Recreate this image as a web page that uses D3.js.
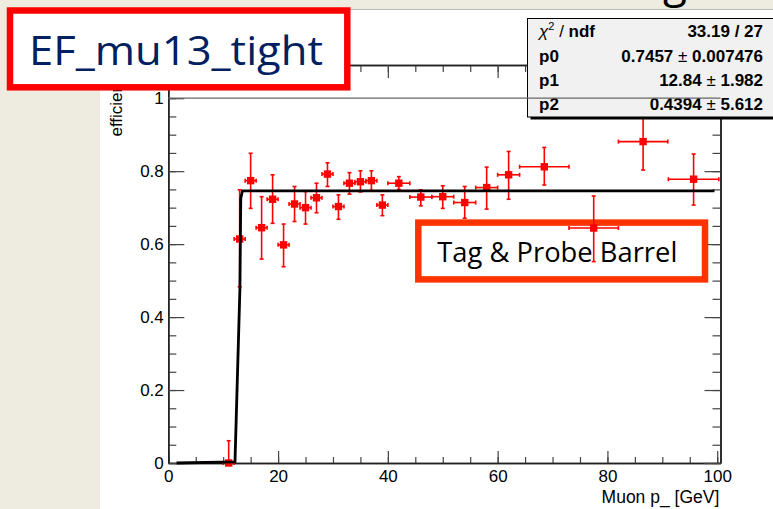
<!DOCTYPE html>
<html>
<head>
<meta charset="utf-8">
<script src="https://d3js.org/d3.v7.min.js"></script>
<style>
  body { margin: 0; background: #eeece1; }
  svg { display: block; }
  .axis text { font-family: "Liberation Sans", Arial, sans-serif; font-size: 17px; fill: #000; }
  .axis line { stroke: #444; stroke-width: 1.2px; }
  .axis path { stroke: #222; stroke-width: 1.5px; }
  .stats text { font-family: "Liberation Sans", Arial, sans-serif; font-size: 17px; font-weight: bold; fill: #000; }
</style>
</head>
<body>
<svg id="chart" width="773" height="509"></svg>
<script>
// pT bin centres, half widths, efficiencies, asymmetric errors
const ptCenter = [11, 13, 15, 17, 19, 21, 23, 25, 27, 29, 31, 33, 35, 37, 39, 42, 46, 50, 54, 58, 62, 68.5, 77.5, 86.5, 95.7];
const ptHalfWidth = [1, 1, 1, 1, 1, 1, 1, 1, 1, 1, 1, 1, 1, 1, 1, 2, 2, 2, 2, 2, 2, 4.5, 4.5, 4.5, 4.6];
const effValue = [0, 0.614, 0.774, 0.645, 0.723, 0.598, 0.710, 0.700, 0.727, 0.792, 0.703, 0.767, 0.771, 0.774, 0.707, 0.767, 0.729, 0.730, 0.714, 0.755, 0.790, 0.812, 0.644, 0.881, 0.778];
const effErrHigh = [0.061, 0.135, 0.075, 0.085, 0.067, 0.057, 0.048, 0.044, 0.040, 0.031, 0.032, 0.029, 0.030, 0.027, 0.028, 0.018, 0.020, 0.030, 0.044, 0.056, 0.064, 0.053, 0.088, 0.080, 0.069];
const effErrLow = [0, 0.131, 0.076, 0.086, 0.066, 0.060, 0.048, 0.045, 0.041, 0.034, 0.035, 0.030, 0.028, 0.027, 0.029, 0.017, 0.024, 0.032, 0.043, 0.059, 0.067, 0.050, 0.092, 0.078, 0.071];

// fitted turn-on curve as drawn
const fitX = [1.5, 12.15, 13.05, 13.2, 13.5, 99.5];
const fitY = [0, 0.003, 0.48, 0.725, 0.7457, 0.7457];

const xMajor = [0, 20, 40, 60, 80, 100];
const xMinor = d3.range(0, 101, 5);
const yMajor = [0, 0.2, 0.4, 0.6, 0.8, 1];
const yMinor = d3.range(0, 21 + 1).map(i => i * 0.05);

const statsLabels = ["p0", "p1", "p2"];
const statsValues = [["0.7457", "0.007476"], ["12.84", "1.982"], ["0.4394", "5.612"]];

const svg = d3.select("#chart");

// slide title remnant peeking above the picture
svg.append("text").attr("x", 663).attr("y", -3)
  .style("font-family", "'Open Sans'").style("font-size", "44px").text("g");

// white canvas of the pasted plot
svg.append("rect").attr("x", 100).attr("y", 10).attr("width", 673).attr("height", 499).attr("fill", "#fff");
svg.append("line").attr("x1", 100).attr("x2", 773).attr("y1", 9.5).attr("y2", 9.5).attr("stroke", "#bbb");

const x = d3.scaleLinear().domain([0, 100.6]).range([168.3, 720.5]);
const y = d3.scaleLinear().domain([0, 1.091]).range([463, 65]);
const fmt = d3.format("~g");

// frame axes: minor then major ticks on each side
svg.append("g").attr("class", "axis").attr("transform", "translate(0,463)")
  .call(d3.axisBottom(x).tickValues(xMinor).tickSize(-6).tickSizeOuter(0).tickFormat(""));
svg.append("g").attr("class", "axis").attr("transform", "translate(0,463)")
  .call(d3.axisBottom(x).tickValues(xMajor).tickSize(-12).tickSizeOuter(0).tickPadding(6.5).tickFormat(fmt));
svg.append("g").attr("class", "axis").attr("transform", "translate(0,65)")
  .call(d3.axisTop(x).tickValues(xMinor).tickSize(-7).tickSizeOuter(0).tickFormat(""));
svg.append("g").attr("class", "axis").attr("transform", "translate(0,65)")
  .call(d3.axisTop(x).tickValues(xMajor).tickSize(-13).tickSizeOuter(0).tickFormat(""));
svg.append("g").attr("class", "axis").attr("transform", "translate(168.3,0)")
  .call(d3.axisLeft(y).tickValues(yMinor).tickSize(-8).tickSizeOuter(0).tickFormat(""));
svg.append("g").attr("class", "axis").attr("transform", "translate(168.3,0)")
  .call(d3.axisLeft(y).tickValues(yMajor).tickSize(-16).tickSizeOuter(0).tickPadding(4.5).tickFormat(fmt));
svg.append("g").attr("class", "axis").attr("transform", "translate(720.5,0)")
  .call(d3.axisRight(y).tickValues(yMinor).tickSize(-8).tickSizeOuter(0).tickFormat(""));
svg.append("g").attr("class", "axis").attr("transform", "translate(720.5,0)")
  .call(d3.axisRight(y).tickValues(yMajor).tickSize(-16).tickSizeOuter(0).tickFormat(""));

// axis titles
svg.append("text").attr("transform", "translate(122,66) rotate(-90)")
  .attr("text-anchor", "end")
  .style("font-family", "'Liberation Sans', Arial").style("font-size", "17px")
  .text("efficiency");
svg.append("text").attr("x", 719.3).attr("y", 503.3).attr("text-anchor", "end")
  .style("font-family", "'Liberation Sans', Arial").style("font-size", "17.5px")
  .text("Muon p_ [GeV]");

// "Tag & Probe Barrel" label box
svg.append("rect").attr("x", 418.3).attr("y", 222.6).attr("width", 286.7).attr("height", 56.8)
  .attr("fill", "#fff").attr("stroke", "#ff3300").attr("stroke-width", 6.5);
svg.append("text").attr("x", 437.3).attr("y", 261.7)
  .attr("textLength", 240).attr("lengthAdjust", "spacingAndGlyphs")
  .style("font-family", "'Open Sans'").style("font-size", "28px").attr("fill", "#000")
  .text("Tag & Probe Barrel");

// data points with error bars
const pts = ptCenter.map((c, i) => ({
  x: c, hw: ptHalfWidth[i], v: effValue[i], hi: effErrHigh[i], lo: effErrLow[i]
}));
const gp = svg.append("g").attr("stroke", "#ff0000").attr("stroke-width", 1.6);
gp.selectAll(".ex").data(pts).join("line")
  .attr("x1", d => x(d.x - d.hw)).attr("x2", d => x(d.x + d.hw))
  .attr("y1", d => y(d.v)).attr("y2", d => y(d.v));
gp.selectAll(".ey").data(pts).join("line")
  .attr("x1", d => x(d.x)).attr("x2", d => x(d.x))
  .attr("y1", d => y(d.v - d.lo)).attr("y2", d => y(d.v + d.hi));
// end caps
gp.selectAll(".cx").data(pts.flatMap(d => [d.x - d.hw, d.x + d.hw].map(e => ({ e, v: d.v })))).join("line")
  .attr("x1", d => x(d.e)).attr("x2", d => x(d.e))
  .attr("y1", d => y(d.v) - 2).attr("y2", d => y(d.v) + 2);
gp.selectAll(".cy").data(pts.flatMap(d => [d.v - d.lo, d.v + d.hi].map(e => ({ e, x: d.x })))).join("line")
  .attr("x1", d => x(d.x) - 2).attr("x2", d => x(d.x) + 2)
  .attr("y1", d => y(d.e)).attr("y2", d => y(d.e));
svg.append("g").selectAll("rect").data(pts).join("rect")
  .attr("x", d => x(d.x) - 3.7).attr("y", d => y(d.v) - 3.7)
  .attr("width", 7.4).attr("height", 7.4).attr("fill", "#ff0000");

// fit curve
svg.append("path")
  .datum(fitX.map((v, i) => [v, fitY[i]]))
  .attr("fill", "none").attr("stroke", "#000").attr("stroke-width", 2.8)
  .attr("stroke-linejoin", "round")
  .attr("d", d3.line().x(d => x(d[0])).y(d => y(d[1])));

// stats box
const st = svg.append("g").attr("class", "stats");
st.append("rect").attr("x", 530.5).attr("y", 21).attr("width", 260).attr("height", 98.5).attr("fill", "#000");
st.append("rect").attr("x", 527.5).attr("y", 18.5).attr("width", 260).attr("height", 98.5)
  .attr("fill", "#f1f1f1").attr("stroke", "#000").attr("stroke-width", 1);
const chi = st.append("text").attr("x", 539).attr("y", 36.7);
chi.append("tspan").style("font-weight", "normal").style("font-style", "italic").text("χ");
chi.append("tspan").attr("dy", -7).style("font-size", "11px").style("font-weight", "normal").text("2");
chi.append("tspan").attr("dy", 7).style("font-weight", "normal").text(" / ");
chi.append("tspan").text("ndf");
st.append("text").attr("x", 763).attr("y", 36.7).attr("text-anchor", "end").text("33.19 / 27");
const rowY = [61.7, 86, 110];
statsLabels.forEach((lab, i) => {
  st.append("text").attr("x", 539).attr("y", rowY[i]).text(lab);
  const t = st.append("text").attr("x", 763).attr("y", rowY[i]).attr("text-anchor", "end");
  t.append("tspan").text(statsValues[i][0]);
  t.append("tspan").style("font-weight", "normal").text(" ± ");
  t.append("tspan").text(statsValues[i][1]);
});

// line at efficiency = 1, drawn over the stats box
svg.append("line").attr("x1", x(0)).attr("x2", x(100.6)).attr("y1", y(1)).attr("y2", y(1))
  .attr("stroke", "#666").attr("stroke-width", 1.2);

// title box
svg.append("rect").attr("x", 10).attr("y", 10.5).attr("width", 337.3).attr("height", 76.8)
  .attr("fill", "#fff").attr("stroke", "#ff0000").attr("stroke-width", 6.5);
svg.append("text").attr("x", 29).attr("y", 65)
  .attr("textLength", 294).attr("lengthAdjust", "spacingAndGlyphs")
  .style("font-family", "'Open Sans'").style("font-size", "41px").attr("fill", "#002060")
  .text("EF_mu13_tight");
</script>
</body>
</html>
